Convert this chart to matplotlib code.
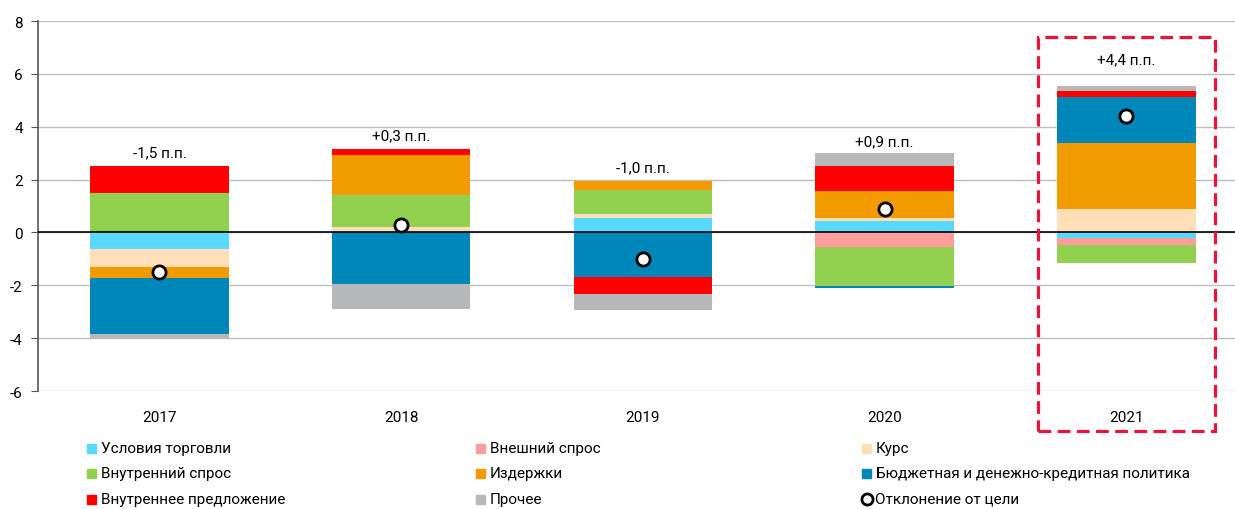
import numpy as np
import matplotlib
matplotlib.use('Agg')
import matplotlib.pyplot as plt
from matplotlib.patches import Rectangle
from matplotlib.lines import Line2D

plt.rcParams['font.family'] = ['Roboto', 'DejaVu Sans']

years = ['2017', '2018', '2019', '2020', '2021']
factors = ['Условия торговли', 'Внешний спрос', 'Курс', 'Внутренний спрос',
           'Издержки', 'Бюджетная и денежно-кредитная политика',
           'Внутреннее предложение', 'Прочее']
colors = ['#59D9FF', '#FF9C9C', '#FFDFB8', '#92D050',
          '#F29B00', '#0087B9', '#FF0000', '#B7B8BA']

# contributions per year, same order as factors
trade = [-0.63, 0.00, 0.54, 0.42, -0.20]
ext_demand = [0.00, 0.00, 0.00, -0.54, -0.29]
fx = [-0.68, 0.22, 0.17, 0.11, 0.87]
dom_demand = [1.50, 1.21, 0.88, -1.50, -0.66]
costs = [-0.42, 1.49, 0.35, 1.02, 2.53]
policy = [-2.10, -1.96, -1.69, -0.06, 1.73]
dom_supply = [1.00, 0.22, -0.63, 0.96, 0.21]
other = [-0.19, -0.93, -0.61, 0.48, 0.20]
deviation = [-1.5, 0.3, -1.0, 0.9, 4.4]
dev_labels = ['-1,5 п.п.', '+0,3 п.п.', '-1,0 п.п.', '+0,9 п.п.', '+4,4 п.п.']

series = [trade, ext_demand, fx, dom_demand, costs, policy, dom_supply, other]

fig = plt.figure(figsize=(12.35, 5.1), dpi=100)
ax = fig.add_axes([38 / 1235, 1 - 392 / 510, 1 - 38 / 1235, (392 - 22) / 510])

x = np.arange(len(years))
width = 0.573
pos_base = np.zeros(len(years))
neg_base = np.zeros(len(years))
for vals, c in zip(series, colors):
    v = np.array(vals)
    bottom = np.where(v >= 0, pos_base, neg_base)
    ax.bar(x, v, width, bottom=bottom, color=c, zorder=2, linewidth=0)
    pos_base = pos_base + np.where(v > 0, v, 0)
    neg_base = neg_base + np.where(v < 0, v, 0)

ax.plot(x, deviation, 'o', markersize=9.5, markerfacecolor='white',
        markeredgecolor='black', markeredgewidth=2, linestyle='none', zorder=4)

# labels above bars
offsets = [14, 14, 14, 12, 27]
for i in range(len(years)):
    ax.annotate(dev_labels[i], (x[i], pos_base[i]), xytext=(0, offsets[i]),
                textcoords='offset pixels', ha='center', va='center', fontsize=11)

ax.set_xlim(-0.5026, 4.449)
ax.set_ylim(-6, 8)
ax.set_yticks(range(-6, 9, 2))
ax.set_yticklabels([str(t) for t in range(-6, 9, 2)])
ax.set_xticks(x)
ax.set_xticklabels(years)
ax.grid(axis='y', color='#BFBFBF', linewidth=1, zorder=0)
ax.axhline(0, color='black', linewidth=1.2, zorder=3)
for s in ['top', 'right', 'bottom']:
    ax.spines[s].set_visible(False)
ax.spines['left'].set_color('#555555')
ax.spines['left'].set_linewidth(1.2)
ax.tick_params(axis='y', length=5, color='#555555', labelsize=11, pad=6)
ax.tick_params(axis='x', length=0, labelsize=11, pad=14)

# highlight box for 2021
fig.patches.append(Rectangle((1038 / 1235, 1 - 432 / 510), (1215 - 1038) / 1235,
                             (432 - 38) / 510, transform=fig.transFigure,
                             fill=False, edgecolor='#E8143C', linewidth=2.3,
                             linestyle=(0, (4, 2))))

# legend, laid out in three columns
col_x = [87, 476, 862]
row_y = [449, 474, 500]
for i, (name, c) in enumerate(zip(factors, colors)):
    r, k = divmod(i, 3)
    px, py = col_x[k], row_y[r]
    fig.patches.append(Rectangle((px / 1235, 1 - (py + 5) / 510), 9 / 1235, 9 / 510,
                                 transform=fig.transFigure, color=c))
    fig.text((px + 14) / 1235, 1 - py / 510, name, va='center', ha='left', fontsize=11)
px, py = col_x[2], row_y[2]
fig.lines.append(Line2D([(px + 5) / 1235], [1 - py / 510], transform=fig.transFigure,
                        marker='o', markersize=8, markerfacecolor='white',
                        markeredgecolor='black', markeredgewidth=2))
fig.text((px + 13) / 1235, 1 - py / 510, 'Отклонение от цели', va='center', ha='left',
         fontsize=11)

fig.savefig('out.png', dpi=100)
